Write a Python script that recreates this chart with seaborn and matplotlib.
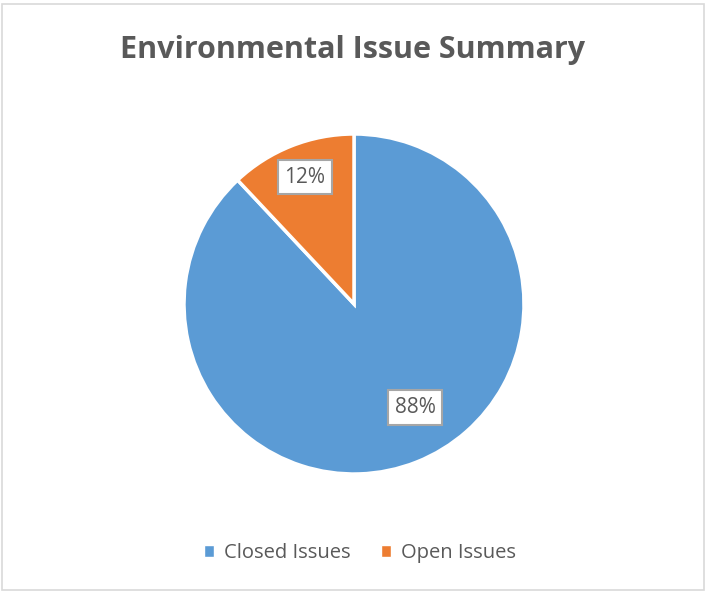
import matplotlib
matplotlib.use("Agg")
import matplotlib.pyplot as plt
import seaborn as sns
import numpy as np
from matplotlib.patches import Rectangle

sns.set_theme(style="white")
plt.rcParams['font.family'] = ['Open Sans', 'DejaVu Sans']

categories = ["Closed Issues", "Open Issues"]
values = [88, 12]
colors = ["#5B9BD5", "#ED7D31"]
title = "Environmental Issue Summary"
text_color = "#595959"

W, H = 706, 594
fig = plt.figure(figsize=(W / 100, H / 100), dpi=100)
fig.patch.set_facecolor("white")

# outer chart border
fig.add_artist(Rectangle((2 / W, 4 / H), 702 / W, 586 / H, transform=fig.transFigure,
                         fill=False, edgecolor="#D9D9D9", linewidth=1.2))

cx, cy, r = 354, 304, 170
ax = fig.add_axes([(cx - r) / W, (H - cy - r) / H, 2 * r / W, 2 * r / H])

wedges, texts, autotexts = ax.pie(
    values, colors=colors, startangle=90, counterclock=False,
    autopct=lambda p: f"{p:.0f}%", pctdistance=0.74,
    wedgeprops=dict(edgecolor="white", linewidth=2.5),
    textprops=dict(color=text_color, fontsize=15),
)
ax.set_xlim(-1, 1)
ax.set_ylim(-1, 1)
ax.set_aspect("equal")
ax.axis("off")

# label placement as in the original
angle_offsets = [9.0, -0.5]
dists = [0.705, 0.80]
for w, t, off, d in zip(wedges, autotexts, angle_offsets, dists):
    mid = np.deg2rad((w.theta1 + w.theta2) / 2 + off)
    t.set_position((d * np.cos(mid), d * np.sin(mid)))
    t.set_bbox(dict(boxstyle="square,pad=0.33", facecolor="white",
                    edgecolor="#A6A6A6", linewidth=1.5))

fig.text(0.5, 1 - 50 / H, title, ha="center", va="center", fontsize=22,
         fontweight="bold", color=text_color)

handles = [Rectangle((0, 0), 1, 1, facecolor=c) for c in colors]
fig.legend(handles, categories, loc="center", bbox_to_anchor=(360 / W, 1 - 553 / H),
           ncol=2, frameon=False, fontsize=14.5, handlelength=0.5, handleheight=0.5,
           handletextpad=0.5, columnspacing=1.5, labelcolor=text_color)

fig.savefig("out.png", dpi=100, facecolor="white")
